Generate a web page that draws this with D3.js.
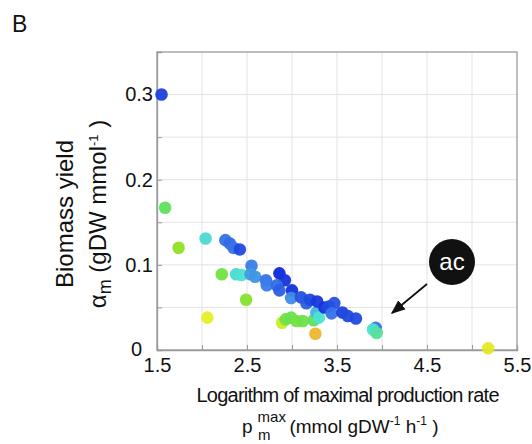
<!DOCTYPE html>
<html lang="en">
<head>
<meta charset="UTF-8">
<title>Biomass yield vs production rate</title>
<script src="https://d3js.org/d3.v7.min.js"></script>
<style>
  body { margin: 0; background: #fff; }
  text { font-family: "Liberation Sans", Arial, sans-serif; fill: #111; }
  .grid line { stroke: #e3e3e3; stroke-width: 1; }
</style>
</head>
<body>
<svg width="532" height="444"></svg>
<script>
// log10 of maximal production rate
const logRate = [1.55, 1.59, 1.74, 2.04, 2.06, 2.22, 2.26, 2.31, 2.35, 2.42,
  2.38, 2.44, 2.49, 2.55, 2.54, 2.59, 2.71, 2.72, 2.86, 2.92, 2.83, 2.86,
  3.0, 2.99, 3.1, 2.89, 2.93, 2.99, 3.05, 3.12, 3.16, 3.2, 3.24, 3.27,
  3.26, 3.28, 3.3, 3.36, 3.41, 3.47, 3.44, 3.56, 3.62, 3.71, 3.93, 3.9, 3.94, 5.18];
// biomass yield
const yieldVal = [0.300, 0.167, 0.120, 0.131, 0.038, 0.089, 0.129, 0.125, 0.120, 0.118,
  0.089, 0.088, 0.059, 0.099, 0.089, 0.086, 0.082, 0.076, 0.090, 0.082, 0.076, 0.070,
  0.070, 0.061, 0.062, 0.032, 0.036, 0.038, 0.034, 0.034, 0.055, 0.059, 0.035, 0.044,
  0.019, 0.057, 0.038, 0.050, 0.051, 0.055, 0.043, 0.044, 0.040, 0.037, 0.026, 0.024, 0.020, 0.002];
// colour index of each point (0 = dark blue ... 1 = orange)
const colourVal = [0.08, 0.55, 0.68, 0.4, 0.82, 0.6, 0.2, 0.18, 0.2, 0.1,
  0.4, 0.42, 0.66, 0.22, 0.28, 0.27, 0.2, 0.22, 0.02, 0.05, 0.18, 0.15,
  0.04, 0.25, 0.12, 0.78, 0.6, 0.57, 0.6, 0.59, 0.15, 0.1, 0.55, 0.33,
  0.95, 0.06, 0.42, 0.05, 0.1, 0.12, 0.2, 0.08, 0.1, 0.1, 0.2, 0.42, 0.48, 0.84];

const xTicks = [1.5, 2.5, 3.5, 4.5, 5.5];
const yTicks = [0, 0.1, 0.2, 0.3];

const svg = d3.select("svg");
const plotL = 157, plotR = 517, plotT = 52, plotB = 350;

const x = d3.scaleLinear().domain([1.5, 5.5]).range([plotL, plotR]);
const y = d3.scaleLinear().domain([0, 0.35]).range([plotB, plotT]);
const colour = d3.scaleLinear()
  .domain([0, 0.22, 0.42, 0.55, 0.68, 0.82, 1])
  .range(["#0a1ed8", "#3a7ce8", "#4ee3d2", "#5fe05a", "#90e224", "#e6f028", "#f0a030"]);

// grid
const grid = svg.append("g").attr("class", "grid");
grid.selectAll(".gx").data(d3.range(2, 5.5, 0.5)).join("line")
  .attr("x1", d => x(d)).attr("x2", d => x(d)).attr("y1", plotT).attr("y2", plotB);
grid.selectAll(".gy").data(d3.range(0.05, 0.35, 0.05)).join("line")
  .attr("y1", d => y(d)).attr("y2", d => y(d)).attr("x1", plotL).attr("x2", plotR);

// frame
svg.append("rect").attr("x", plotL).attr("y", plotT)
  .attr("width", plotR - plotL).attr("height", plotB - plotT)
  .attr("fill", "none").attr("stroke", "#9a9a9a").attr("stroke-width", 1.3);

// axes
const xAxis = d3.axisBottom(x).tickValues(d3.range(1.5, 5.75, 0.5))
  .tickSize(-5).tickPadding(8).tickFormat(d => xTicks.includes(d) ? d3.format(".1f")(d) : "");
const yAxis = d3.axisLeft(y).tickValues(d3.range(0, 0.351, 0.05))
  .tickSize(-5).tickPadding(4).tickFormat(d => yTicks.some(t => Math.abs(t - d) < 1e-9) ? (d === 0 ? "0" : d3.format(".1f")(d)) : "");

svg.append("g").attr("transform", `translate(0,${plotB})`).call(xAxis)
  .call(g => g.select(".domain").attr("stroke", "#9a9a9a").attr("stroke-width", 1.3))
  .call(g => g.selectAll(".tick line").attr("stroke", "#9a9a9a"))
  .call(g => g.selectAll("text").style("font-size", "20px").attr("fill", "#111")
    .style("font-family", "'Liberation Sans', Arial, sans-serif"));
svg.append("g").attr("transform", `translate(${plotL},0)`).call(yAxis)
  .call(g => g.select(".domain").attr("stroke", "#9a9a9a").attr("stroke-width", 1.3))
  .call(g => g.selectAll(".tick line").attr("stroke", "#9a9a9a"))
  .call(g => g.selectAll("text").style("font-size", "20px").attr("fill", "#111")
    .style("font-family", "'Liberation Sans', Arial, sans-serif"))
  .call(g => g.selectAll(".tick text").filter(d => d === 0).attr("dx", -11).attr("dy", "0.25em"));

// points
svg.append("g").selectAll("circle")
  .data(logRate.map((d, i) => ({ x: d, y: yieldVal[i], c: colourVal[i] })))
  .join("circle")
  .attr("cx", d => x(d.x)).attr("cy", d => y(d.y))
  .attr("r", 6.3).attr("fill", d => colour(d.c)).attr("fill-opacity", 0.95);

// annotation
svg.append("defs").append("marker").attr("id", "arr")
  .attr("viewBox", "0 0 10 10").attr("refX", 9).attr("refY", 5)
  .attr("markerWidth", 8).attr("markerHeight", 8).attr("orient", "auto")
  .append("path").attr("d", "M0,1 L10,5 L0,9 z").attr("fill", "#111");
svg.append("line").attr("x1", 427).attr("y1", 284).attr("x2", 392).attr("y2", 313)
  .attr("stroke", "#111").attr("stroke-width", 1.8).attr("marker-end", "url(#arr)");
svg.append("circle").attr("cx", 452).attr("cy", 262).attr("r", 23).attr("fill", "#111");
svg.append("text").attr("x", 452).attr("y", 270).attr("text-anchor", "middle")
  .style("font-size", "24px").style("fill", "#fff").text("ac");

// panel letter
svg.append("text").attr("x", 12).attr("y", 32).style("font-size", "23px").text("B");

// y label
svg.append("text").attr("transform", "translate(73,214) rotate(-90)")
  .attr("text-anchor", "middle").style("font-size", "24px").text("Biomass yield");
const yl2 = svg.append("text").attr("transform", "translate(106,214) rotate(-90)")
  .attr("text-anchor", "middle").style("font-size", "24px");
yl2.append("tspan").text("α");
yl2.append("tspan").attr("dy", 5).style("font-size", "18px").text("m");
yl2.append("tspan").attr("dy", -5).text(" (gDW mmol");
yl2.append("tspan").attr("dy", -8).style("font-size", "13px").text("-1");
yl2.append("tspan").attr("dy", 8).text(" )");

// x label
svg.append("text").attr("x", 348).attr("y", 402).attr("text-anchor", "middle")
  .attr("textLength", 303).style("font-size", "20px").text("Logarithm of maximal production rate");
const xl2 = svg.append("text").attr("x", 242).attr("y", 433).style("font-size", "19px");
xl2.append("tspan").text("p");
xl2.append("tspan").attr("dx", 5).attr("dy", -11).style("font-size", "15px").text("max");
xl2.append("tspan").attr("dx", -28).attr("dy", 18).style("font-size", "15px").text("m");
xl2.append("tspan").attr("dx", 19).attr("dy", -7).text("(mmol gDW");
xl2.append("tspan").attr("dy", -8).style("font-size", "12px").text("-1");
xl2.append("tspan").attr("dy", 8).text(" h");
xl2.append("tspan").attr("dy", -8).style("font-size", "12px").text("-1");
xl2.append("tspan").attr("dy", 8).text(" )");
</script>
</body>
</html>
